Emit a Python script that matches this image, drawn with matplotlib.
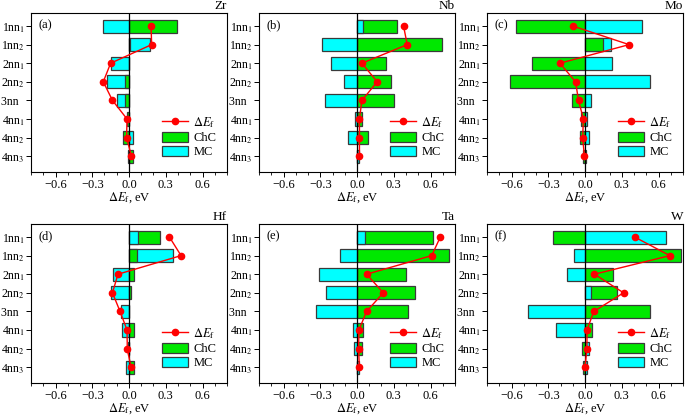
import numpy as np
import matplotlib
matplotlib.use('Agg')
import matplotlib.pyplot as plt
from matplotlib.patches import Patch
from matplotlib.lines import Line2D

plt.rcParams['font.family'] = ['Liberation Serif', 'DejaVu Serif']
plt.rcParams['mathtext.fontset'] = 'stix'
plt.rcParams['font.size'] = 9

# categories (top to bottom)
sites = ['1nn$_1$', '1nn$_2$', '2nn$_1$', '2nn$_2$', '3nn  ', '4nn$_1$', '4nn$_2$', '4nn$_3$']

metals = ['Zr', 'Nb', 'Mo', 'Hf', 'Ta', 'W']
panel_tags = ['(a)', '(b)', '(c)', '(d)', '(e)', '(f)']

# chemical contribution (ChC), eV
chc_zr = [0.39, 0.01, 0.0, -0.035, -0.035, -0.013, -0.05, 0.03]
chc_nb = [0.33, 0.69, 0.24, 0.28, 0.30, 0.04, 0.09, 0.0]
chc_mo = [-0.565, 0.145, -0.43, -0.61, -0.105, -0.03, -0.043, -0.016]
chc_hf = [0.254, 0.062, 0.038, 0.013, 0.0, 0.04, -0.004, 0.04]
chc_ta = [0.617, 0.753, 0.397, 0.472, 0.418, 0.05, 0.043, 0.0]
chc_w = [-0.261, 0.785, 0.227, 0.264, 0.533, 0.056, -0.021, -0.019]

# mechanical contribution (MC), eV
mc_zr = [-0.21, 0.17, -0.15, -0.18, -0.10, -0.003, 0.03, -0.01]
mc_nb = [0.05, -0.285, -0.21, -0.11, -0.265, -0.02, -0.075, 0.015]
mc_mo = [0.467, 0.216, 0.224, 0.533, 0.045, 0.019, 0.032, 0.01]
mc_hf = [0.07, 0.362, -0.127, -0.143, -0.068, -0.054, -0.01, -0.027]
mc_ta = [0.062, -0.14, -0.314, -0.252, -0.335, -0.032, -0.024, 0.019]
mc_w = [0.664, -0.091, -0.149, 0.048, -0.464, -0.24, 0.032, 0.019]

# total formation energy change dE_f, eV
def_zr = [0.18, 0.185, -0.15, -0.21, -0.135, -0.016, -0.02, 0.02]
def_nb = [0.38, 0.41, 0.04, 0.165, 0.04, 0.02, 0.02, 0.02]
def_mo = [-0.10, 0.36, -0.205, -0.077, -0.053, -0.013, -0.019, -0.005]
def_hf = [0.33, 0.425, -0.09, -0.135, -0.073, -0.016, -0.014, 0.016]
def_ta = [0.68, 0.61, 0.078, 0.215, 0.078, 0.016, 0.013, 0.019]
def_w = [0.405, 0.693, 0.077, 0.315, 0.072, 0.016, 0.016, 0.0]

chc_all = [chc_zr, chc_nb, chc_mo, chc_hf, chc_ta, chc_w]
mc_all = [mc_zr, mc_nb, mc_mo, mc_hf, mc_ta, mc_w]
def_all = [def_zr, def_nb, def_mo, def_hf, def_ta, def_w]

green = '#00e800'
cyan = '#00ffff'
edge = '#3a3a3a'

W, H = 685, 417
fig = plt.figure(figsize=(W / 100, H / 100), dpi=100)

lefts = [31, 259, 487]
tops = [13, 224]
aw, ah = 196, 159

y = np.arange(len(sites))

for k, metal in enumerate(metals):
    col = k % 3
    row = k // 3
    ax = fig.add_axes([lefts[col] / W, 1 - (tops[row] + ah) / H, aw / W, ah / H])

    c = np.array(chc_all[k])
    m = np.array(mc_all[k])
    # the longer bar goes behind, the shorter one on top
    c_big = np.abs(c) >= np.abs(m)
    big = np.where(c_big, c, m)
    small = np.where(c_big, m, c)
    big_col = [green if b else cyan for b in c_big]
    small_col = [cyan if b else green for b in c_big]

    ax.barh(y, big, height=0.7, color=big_col, edgecolor=edge, linewidth=0.9, zorder=2)
    ax.barh(y, small, height=0.7, color=small_col, edgecolor=edge, linewidth=0.9, zorder=3)
    ax.axvline(0, color='black', lw=0.9, zorder=4)
    ax.plot(def_all[k], y, color='red', marker='o', ms=4.5, lw=1, zorder=5)

    ax.set_xlim(-0.8, 0.8)
    ax.set_ylim(7.85, -0.7)
    ax.set_xticks([-0.6, -0.3, 0.0, 0.3, 0.6])
    ax.set_xticks(np.arange(-0.8, 0.81, 0.1), minor=True)
    ax.set_xticklabels(['\u22120.6', '\u22120.3', '0.0', '0.3', '0.6'])
    ax.set_yticks(y)
    ax.set_yticklabels(sites, fontsize=8.5)
    ax.tick_params(direction='out', length=3.5, width=0.7, pad=1.5)
    ax.tick_params(axis='y', pad=1)
    ax.tick_params(which='minor', direction='out', length=2, width=0.6)
    ax.tick_params(axis='y', which='minor', left=False)
    for s in ax.spines.values():
        s.set_linewidth(0.8)
    ax.set_xlabel(r'$\Delta E_\mathrm{f}$, eV', labelpad=-0.5)
    ax.set_title(metal, loc='right', fontsize=9.5, pad=3)
    ax.text(0.04, 0.925, panel_tags[k], transform=ax.transAxes, va='center', ha='left')

    handles = [Line2D([], [], color='red', marker='o', ms=4.5, lw=1),
               Patch(facecolor=green, edgecolor=edge, linewidth=0.9),
               Patch(facecolor=cyan, edgecolor=edge, linewidth=0.9)]
    ax.legend(handles, [r'$\Delta E_\mathrm{f}$', 'ChC', 'MC'], loc='lower right',
              frameon=False, handlelength=2.1, handleheight=0.9,
              labelspacing=0.15, handletextpad=0.4, borderaxespad=0.3,
              bbox_to_anchor=(0.99, 0.03))

fig.savefig('out.png', dpi=100)
